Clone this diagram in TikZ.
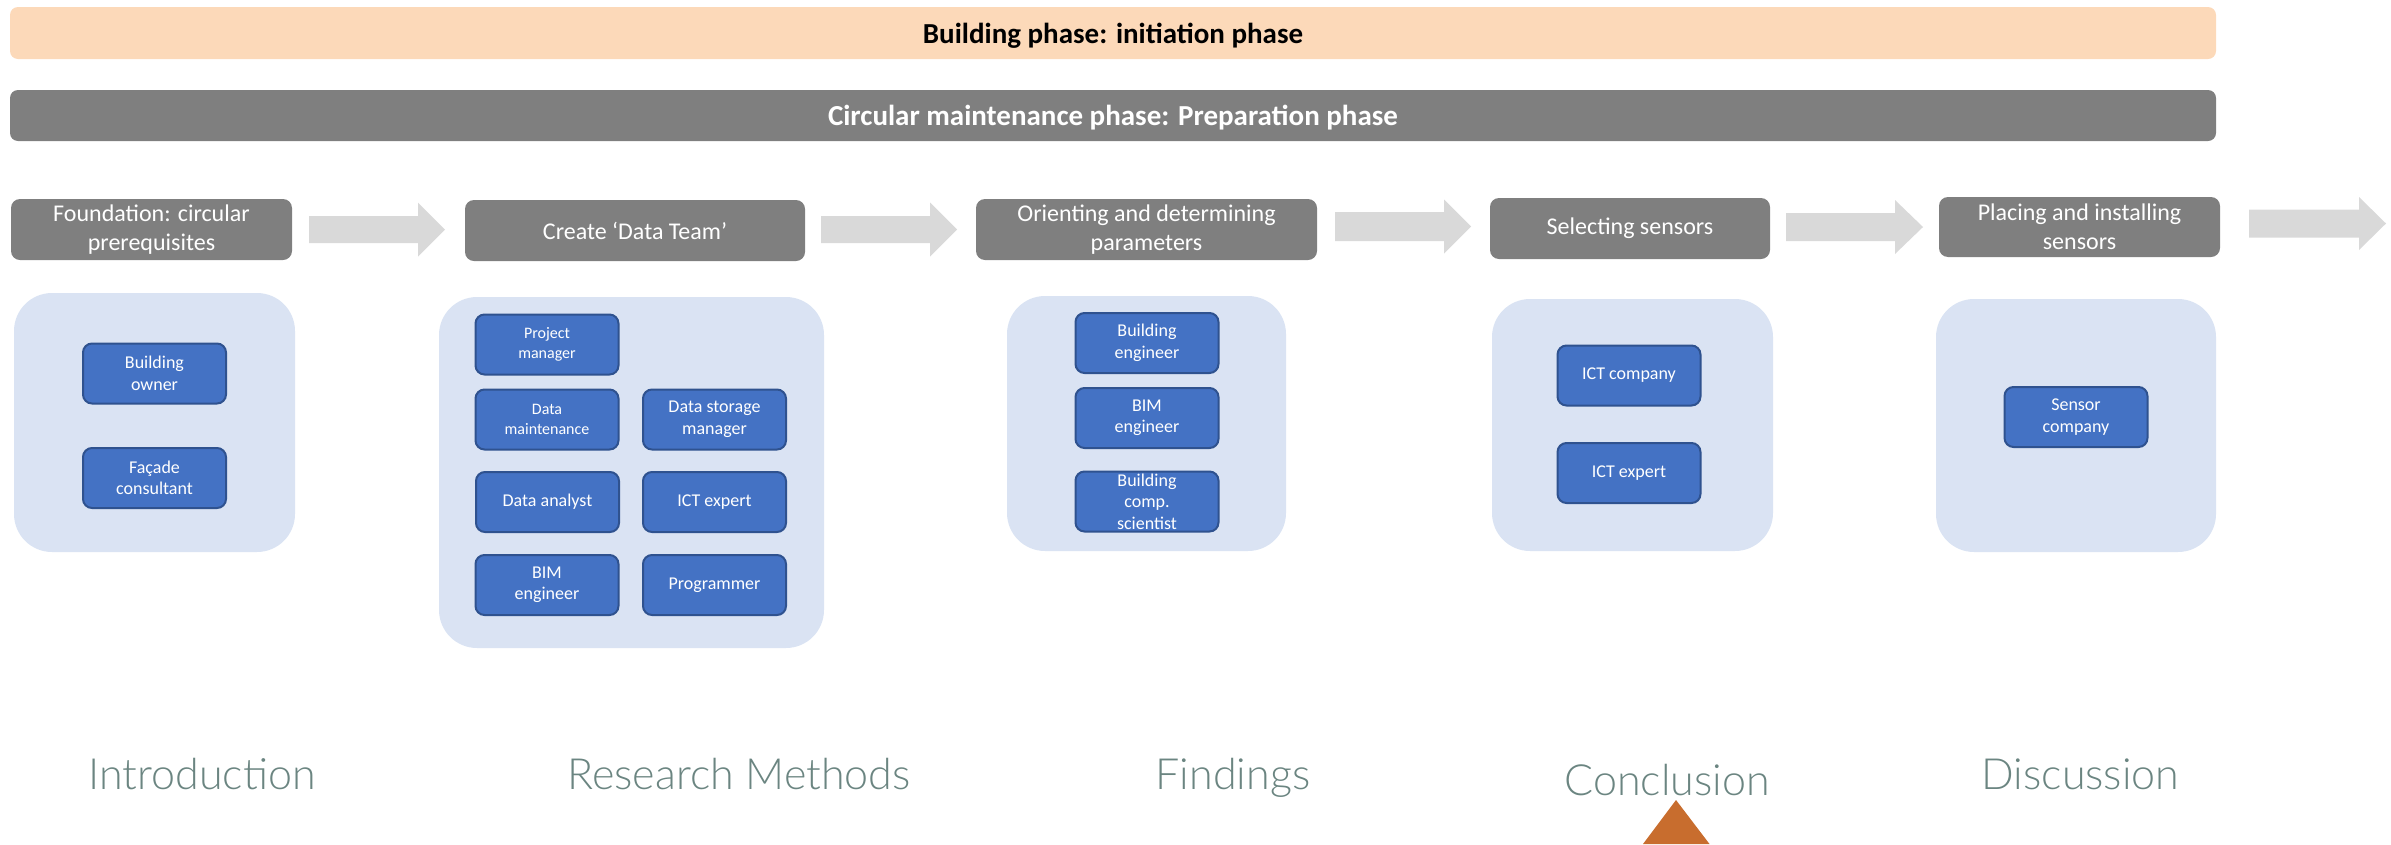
\documentclass[tikz,border=0pt]{standalone}
\usepackage{fontspec}
\setmainfont{Carlito}
\newfontfamily\sectionfont{Lato Light}
\definecolor{peach}{HTML}{FCD9B9}
\definecolor{stepgray}{HTML}{7F7F7F}
\definecolor{groupblue}{HTML}{DAE3F3}
\definecolor{roleblue}{HTML}{4472C4}
\definecolor{roleedge}{HTML}{2F528F}
\definecolor{flowgray}{HTML}{D9D9D9}
\definecolor{sectiongreen}{HTML}{6B8581}
\definecolor{accent}{HTML}{C86D2E}
\tikzset{
  phasebar/.style={rounded corners=8pt, inner sep=0pt, minimum width=2206pt, minimum height=52pt},
  phasetext/.style={anchor=base, inner sep=0pt, font=\bfseries\fontsize{29}{35}\selectfont},
  stepbox/.style={fill=stepgray, rounded corners=9pt, text=white, align=center, inner sep=0pt,
    font=\fontsize{24}{29}\selectfont},
  groupbox/.style={fill=groupblue, rounded corners=38pt, inner sep=0pt},
  role/.style={fill=roleblue, draw=roleedge, line width=2pt, rounded corners=9pt, text=white,
    align=center, inner sep=0pt, minimum width=143pt, minimum height=60pt,
    font=\fontsize{18}{21.5}\selectfont},
  smallrole/.style={role, font=\fontsize{16}{19.5}\selectfont},
  flow/.style={fill=flowgray},
  section/.style={text=sectiongreen, anchor=base, inner sep=0pt,
    font=\sectionfont\fontsize{43}{50}\selectfont},
}
% block arrow: tail x, head start x, tip x, mid y, half shaft, half head
\newcommand\flowarrow[6]{%
  \fill[flow] (#1,#4-#5) -- (#2,#4-#5) -- (#2,#4-#6) -- (#3,#4) -- (#2,#4+#6)
    -- (#2,#4+#5) -- (#1,#4+#5) -- cycle;}
\begin{document}
\begin{tikzpicture}[x=1pt, y=-1pt]
\useasboundingbox (0,0) rectangle (2391,844);

% phase bars
\node[phasebar, fill=peach, minimum height=52pt] (build) at (1113,33) {};
\node[phasetext, text=black] (buildtxt) at (1113,43) {Building phase: initiation phase};
\node[phasebar, fill=stepgray, minimum height=51pt] (maint) at (1113,115.5) {};
\node[phasetext, text=white] (mainttxt) at (1113,125) {Circular maintenance phase: Preparation phase};

% process steps
\node[stepbox, minimum width=281pt, minimum height=61pt] (s1) at (151.5,229.5) {Foundation: circular\\prerequisites};
\node[stepbox, minimum width=340pt, minimum height=61pt] (s2) at (635,230.5) {Create ‘Data Team’};
\node[stepbox, minimum width=341pt, minimum height=61pt] (s3) at (1146.5,229.5) {Orienting and determining\\parameters};
\node[stepbox, minimum width=280pt, minimum height=61pt] (s4) at (1630,228.5) {Selecting sensors};
\node[stepbox, minimum width=281pt, minimum height=60pt] (s5) at (2079.5,227) {Placing and installing\\sensors};

% arrows between the steps
\flowarrow{309}{418}{445}{229.5}{13.5}{27}
\flowarrow{821}{930}{957}{229.5}{13.5}{27}
\flowarrow{1335}{1444}{1471}{226.5}{14.5}{27}
\flowarrow{1786}{1895}{1923}{227}{14}{27}
\flowarrow{2249}{2359}{2386}{223.5}{14}{26.5}

% groups of actors
\node[groupbox, minimum width=281pt, minimum height=259pt] (g1) at (154.5,422.5) {};
\node[groupbox, minimum width=385pt, minimum height=351pt] (g2) at (631.5,472.5) {};
\node[groupbox, minimum width=279pt, minimum height=255pt] (g3) at (1146.5,423.5) {};
\node[groupbox, minimum width=281pt, minimum height=252pt] (g4) at (1632.5,425) {};
\node[groupbox, minimum width=280pt, minimum height=253pt] (g5) at (2076,425.5) {};

% actors
\node[role] (owner) at (154.5,373.5) {Building\\owner};
\node[role] (facade) at (154.5,478) {Façade\\consultant};

\node[smallrole] (pm) at (547,344.5) {Project\\manager};
\node[smallrole] (dm) at (547,419.5) {Data\\maintenance};
\node[role] (dsm) at (714.5,419.5) {Data storage\\manager};
\node[role] (da) at (547.5,502) {Data analyst};
\node[role] (ict1) at (714.5,502) {ICT expert};
\node[role] (bim1) at (547,585) {BIM\\engineer};
\node[role] (prog) at (714.5,585) {Programmer};

\node[role] (be) at (1147,343) {Building\\engineer};
\node[role] (bim2) at (1147,418) {BIM\\engineer};
\node[role] (bcs) at (1147,501.5) {Building\\comp.\\scientist};

\node[role] (ictc) at (1629,375.5) {ICT company};
\node[role] (ict2) at (1629,473) {ICT expert};

\node[role] (sc) at (2076,417) {Sensor\\company};

% section labels
\node[section] (intro) at (202,789) {Introduction};
\node[section] (methods) at (739,789) {Research Methods};
\node[section] (findings) at (1233,789) {Findings};
\node[section] (concl) at (1667,795) {Conclusion};
\node[section] (disc) at (2080.5,789) {Discussion};

% marker under the current section
\fill[accent] (1676,800) -- (1709.5,844) -- (1643,844) -- cycle;
\end{tikzpicture}
\end{document}
